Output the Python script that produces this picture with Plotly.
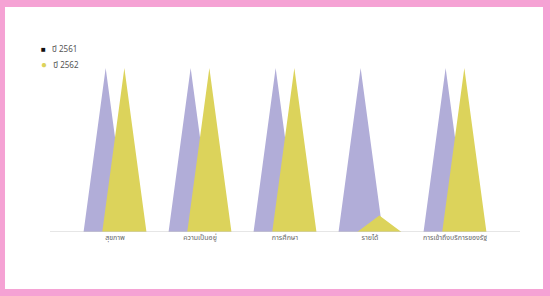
import plotly.graph_objects as go

categories = ["สุขภาพ", "ความเป็นอยู่", "การศึกษา", "รายได้", "การเข้าถึงบริการของรัฐ"]
series_names = ["ปี 2561", "ปี 2562"]
values_2561 = [100, 100, 100, 100, 100]
values_2562 = [100, 100, 100, 10, 100]

colors = ["#b1add8", "#dcd35b"]
legend_colors = ["#111111", "#dcd35b"]
legend_glyphs = ["■", "●"]
glyph_sizes = [8, 10]
offsets = [-0.11, 0.11]
half_w = 0.26

fig = go.Figure()

for vals, off, col, name in zip([values_2561, values_2562], offsets, colors, series_names):
    xs, ys = [], []
    for i, v in enumerate(vals):
        xs += [i + off - half_w, i + off, i + off + half_w, i + off - half_w, None]
        ys += [0, v, 0, 0, None]
    fig.add_trace(go.Scatter(x=xs, y=ys, mode="lines", fill="toself", fillcolor=col,
                             line=dict(width=0, color=col), showlegend=False,
                             hoverinfo="skip", name=name))

W, H = 550, 296
L, R, T, B = 50, 30, 68, 64
pw, ph = W - L - R, H - T - B

def px_to_paper_x(px):
    return (px - L) / pw

def px_to_paper_y(py):
    return (H - B - py) / ph

fig.add_shape(type="rect", xref="paper", yref="paper", layer="below",
              x0=px_to_paper_x(5), x1=px_to_paper_x(543),
              y0=px_to_paper_y(289), y1=px_to_paper_y(7),
              fillcolor="white", line=dict(width=0))

# legend drawn as text entries
for k, (name, col, glyph, gs) in enumerate(zip(series_names, legend_colors, legend_glyphs, glyph_sizes)):
    fig.add_annotation(xref="paper", yref="paper", x=px_to_paper_x(39), y=px_to_paper_y(50 + 15 * k),
                       xanchor="left", yanchor="middle", showarrow=False,
                       text=f"<span style='color:{col};font-size:{gs}px'>{glyph}</span>&nbsp;&nbsp;&nbsp;{name}",
                       font=dict(size=8, color="#555555"))

fig.update_layout(
    width=W, height=H,
    margin=dict(l=L, r=R, t=T, b=B),
    paper_bgcolor="#f5a2d4",
    plot_bgcolor="white",
    font=dict(family="Noto Sans Thai, Noto Sans, sans-serif", size=8, color="#666666"),
    showlegend=False,
    xaxis=dict(range=[-0.765, 4.765], tickmode="array", tickvals=list(range(len(categories))),
               ticktext=categories, showgrid=False, zeroline=False, showline=False,
               ticks="", tickfont=dict(size=7, color="#666666"), fixedrange=True),
    yaxis=dict(range=[0, 100], visible=False, showgrid=False, zeroline=False, fixedrange=True),
)

fig.add_shape(type="line", xref="paper", yref="y", x0=0, x1=1, y0=0, y1=0,
              line=dict(color="#cccccc", width=1), layer="above")

fig.write_html("out.html", config={"displayModeBar": False},
               post_script="document.body.style.margin='0';document.body.style.overflow='hidden';")
